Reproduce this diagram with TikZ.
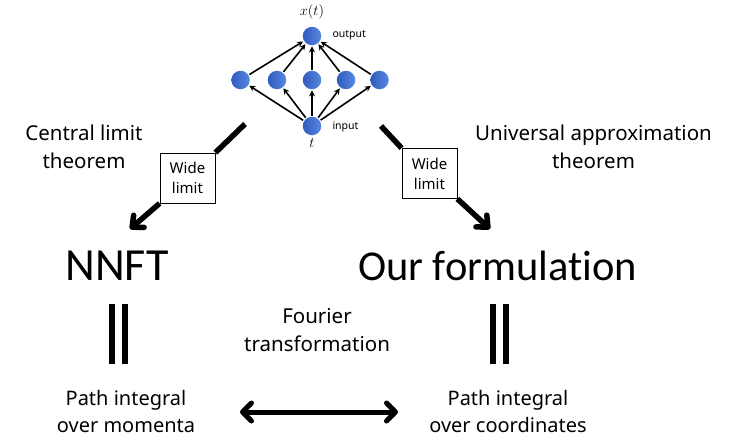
\documentclass[tikz,border=0pt]{standalone}
\usepackage{fontspec}
\setmainfont{Noto Sans}
\newfontfamily\bigfont[Ligatures=NoCommon]{Carlito}
\usetikzlibrary{arrows.meta}
\definecolor{neurondark}{RGB}{48,92,190}
\definecolor{neuronlight}{RGB}{88,136,222}
\begin{document}
\begin{tikzpicture}[x=1pt,y=-1pt,
  neuron/.style={circle,minimum size=18.5pt,inner sep=0pt,
    left color=neurondark,right color=neuronlight},
  syn/.style={line width=1.6pt,-{Stealth[length=6pt,width=6pt]},shorten >=1pt,shorten <=1pt},
  thick bar/.style={line width=6pt},
  bigarrow/.style={line width=5.5pt,-{Straight Barb[length=9pt,width=16pt,line cap=round,round]}},
  widebox/.style={draw,fill=white,line width=0.8pt,inner sep=0pt,minimum width=55pt,minimum height=50pt,
    align=center,font=\fontsize{15}{20}\selectfont},
  caption/.style={align=center,inner sep=0pt,font=\fontsize{20.5}{28}\selectfont},
  big/.style={font=\bigfont\fontsize{46}{50}\selectfont}]
\useasboundingbox (0,0) rectangle (738,439);

% small network: input -> hidden layer -> output
\node[neuron] (out) at (312,36) {};
\node[neuron] (h1) at (240.5,80) {};
\node[neuron] (h2) at (277,80) {};
\node[neuron] (h3) at (312,80) {};
\node[neuron] (h4) at (346,80) {};
\node[neuron] (h5) at (379.5,80) {};
\node[neuron] (in) at (312,126) {};
\foreach \h in {h1,h2,h3,h4,h5}{
  \draw[syn] (in) -- (\h);
  \draw[syn] (\h) -- (out);
}
\node[font=\fontsize{14.5}{16}\selectfont] (xt) at (312,12) {$x(t)$};
\node[font=\fontsize{15}{17}\selectfont] (tt) at (312,143) {$t$};
\node[font=\fontsize{10.5}{12}\selectfont,anchor=west] (outlbl) at (329,35) {output};
\node[font=\fontsize{10.5}{12}\selectfont,anchor=west] (inlbl) at (329,127) {input};

% wide-limit arrows
\coordinate (ls) at (245,124);
\coordinate (le) at (130,229);
\coordinate (rs) at (381,126);
\coordinate (re) at (490,229);
\node[widebox] (wl) at (187.5,178) {Wide\\limit};
\node[widebox] (wr) at (429.5,173.5) {Wide\\limit};
\draw[line width=5.5pt] (ls) -- (wl.north east);
\draw[bigarrow] (wl.south west) -- (le);
\draw[line width=5.5pt] (rs) -- (wr.north west);
\draw[bigarrow] (wr.south east) -- (re);

% theorem captions
\node[caption] (clt) at (84,147) {Central limit\\theorem};
\node[caption] (uat) at (593.5,147) {Universal approximation\\theorem};

% the two formulations
\node[big] (nnft) at (117,266) {NNFT};
\node[big,font=\bigfont\fontsize{42.5}{50}\selectfont] (ours) at (497.5,266) {Our formulation};

% equality signs
\draw[thick bar] (112.3,304) -- (112.3,364);
\draw[thick bar] (125.3,304) -- (125.3,364);
\draw[thick bar] (493,304) -- (493,364);
\draw[thick bar] (506,304) -- (506,364);

% path integrals and Fourier transformation
\node[caption,font=\fontsize{20}{27}\selectfont] (pm) at (126,411) {Path integral\\over momenta};
\node[caption,font=\fontsize{20}{27}\selectfont] (pc) at (508,411) {Path integral\\over coordinates};
\node[caption] (ft) at (317,330) {Fourier\\transformation};
\coordinate (fa) at (240,412);
\coordinate (fb) at (398,412);
\draw[line width=5pt,{Straight Barb[length=9pt,width=18pt,line cap=round,round]}-{Straight Barb[length=9pt,width=18pt,line cap=round,round]}] (fa) -- (fb);
\end{tikzpicture}
\end{document}
